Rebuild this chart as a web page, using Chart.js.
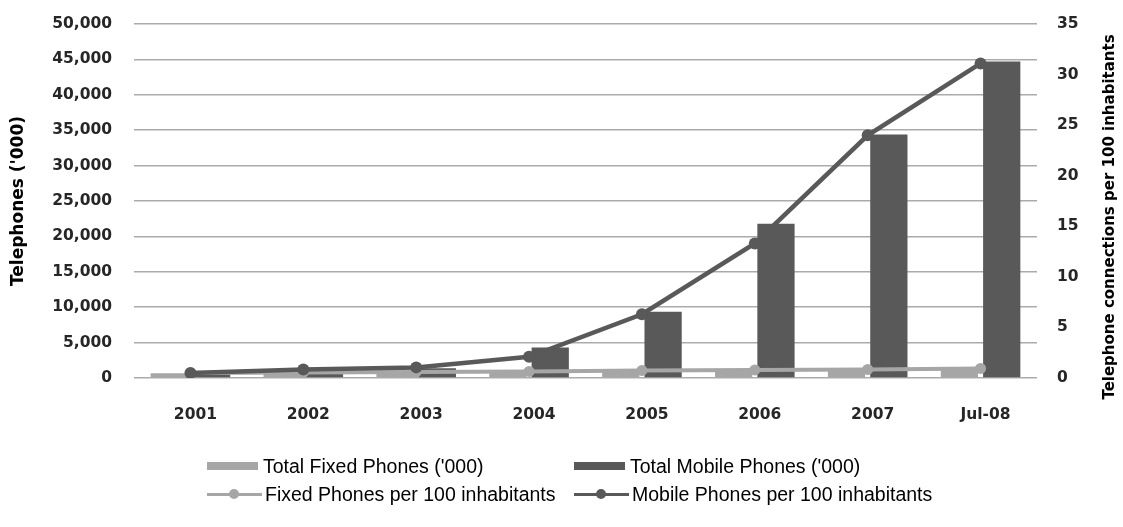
<!DOCTYPE html>
<html lang="en">

<head>
    <meta charset="UTF-8" />
    <title>Telephones</title>
    <script src="https://cdn.jsdelivr.net/npm/chart.js"></script>
    <style>
        body { margin: 0; background: #fff; }
        .quadro { position: relative; width: 1123px; height: 527px; }
        .legenda { position: absolute; left: 0; top: 0; width: 1123px; height: 527px; pointer-events: none;
            font-family: "Liberation Sans", sans-serif; font-size: 19.5px; color: #000; }
        .item { position: absolute; height: 24px; display: flex; align-items: center; white-space: nowrap; }
        .caixa { width: 51px; height: 8px; margin-right: 5px; }
        .amostra { position: relative; width: 55px; height: 24px; margin-right: 3px; }
        .amostra .traco { position: absolute; left: 0; right: 0; top: 10.5px; height: 3px; }
        .amostra .ponto { position: absolute; left: 22px; top: 7px; width: 10px; height: 10px; border-radius: 50%; }
    </style>
</head>

<body>
    <div class="quadro">
        <canvas id="graficoTelefones" width="1123" height="527"></canvas>
        <div class="legenda" id="div_legenda"></div>
    </div>
</body>

</html>

<script>
    // dados
    const anos = ['2001', '2002', '2003', '2004', '2005', '2006', '2007', 'Jul-08'];
    const fixosTotal = [660, 740, 830, 910, 1070, 1130, 1210, 1320];
    const moveisTotal = [520, 1070, 1370, 4300, 9350, 21800, 34400, 44700];
    const fixosPor100 = [0.5, 0.55, 0.6, 0.65, 0.75, 0.8, 0.85, 0.95];
    const moveisPor100 = [0.5, 0.85, 1.05, 2.1, 6.3, 13.3, 24.0, 31.1];

    const maxEsquerda = 50000;
    const passoEsquerda = 5000;
    const maxDireita = 35;
    const passoDireita = 5;

    const corClara = '#a6a6a6';
    const corEscura = '#595959';
    const fonteEixo = { family: '"DejaVu Sans"', size: 15.5, weight: 'bold' };

    // titulo do eixo da direita, lido de baixo para cima como no original
    const tituloDireita = {
        id: 'tituloDireita',
        afterDraw(chart) {
            const ctx = chart.ctx;
            const escala = chart.scales.yDireita;
            const area = chart.chartArea;
            ctx.save();
            ctx.translate(escala.right - 13, (area.top + area.bottom) / 2 + 16);
            ctx.rotate(-Math.PI / 2);
            ctx.font = 'bold 15px "DejaVu Sans"';
            ctx.fillStyle = '#000';
            ctx.textAlign = 'center';
            ctx.textBaseline = 'middle';
            ctx.fillText('Telephone connections per 100 inhabitants', 0, 0);
            ctx.restore();
        }
    };

    // largura fixa dos eixos verticais e sem folga extra em cima
    function ajustarEixo(largura) {
        return function (escala) {
            escala.width = largura;
            escala.paddingTop = 10;
            escala.paddingBottom = 10;
        };
    }

    const dados = {
        labels: anos,
        datasets: [
            {
                type: 'line',
                label: 'Mobile Phones per 100 inhabitants',
                data: moveisPor100,
                yAxisID: 'yDireita',
                borderColor: corEscura,
                backgroundColor: corEscura,
                borderWidth: 4.5,
                pointRadius: 6,
                pointBorderWidth: 0,
                tension: 0,
                order: 0
            },
            {
                type: 'line',
                label: 'Fixed Phones per 100 inhabitants',
                data: fixosPor100,
                yAxisID: 'yDireita',
                borderColor: corClara,
                backgroundColor: corClara,
                borderWidth: 4,
                pointRadius: 5.5,
                pointBorderWidth: 0,
                tension: 0,
                order: 1
            },
            {
                type: 'bar',
                label: "Total Fixed Phones ('000)",
                data: fixosTotal,
                yAxisID: 'yEsquerda',
                backgroundColor: corClara,
                categoryPercentage: 0.75,
                barPercentage: 0.88,
                order: 2
            },
            {
                type: 'bar',
                label: "Total Mobile Phones ('000)",
                data: moveisTotal,
                yAxisID: 'yEsquerda',
                backgroundColor: corEscura,
                categoryPercentage: 0.75,
                barPercentage: 0.88,
                order: 3
            }
        ]
    };

    const config = {
        type: 'bar',
        data: dados,
        options: {
            responsive: false,
            animation: false,
            devicePixelRatio: 1,
            layout: { padding: { top: 24, left: 0, right: 0, bottom: 0 } },
            plugins: {
                legend: { display: false },
                tooltip: { enabled: false }
            },
            scales: {
                x: {
                    grid: { display: false },
                    border: { display: false },
                    ticks: { font: fonteEixo, color: '#262626', padding: 20, labelOffset: 5, maxRotation: 0 },
                    afterFit: function (escala) { escala.height = 149; }
                },
                yEsquerda: {
                    position: 'left',
                    min: 0,
                    max: maxEsquerda,
                    grid: { color: '#ababab', lineWidth: 1.5, drawTicks: false },
                    border: { display: false },
                    ticks: {
                        stepSize: passoEsquerda,
                        font: fonteEixo,
                        color: '#262626',
                        padding: 22,
                        callback: function (valor) { return valor.toLocaleString('en-US'); }
                    },
                    title: {
                        display: true,
                        text: "Telephones ('000)",
                        font: { family: '"DejaVu Sans"', size: 17, weight: 'bold' },
                        color: '#000',
                        padding: { top: 8, bottom: 0 }
                    },
                    afterFit: ajustarEixo(134)
                },
                yDireita: {
                    position: 'right',
                    min: 0,
                    max: maxDireita,
                    grid: { drawOnChartArea: false, drawTicks: false },
                    border: { display: false },
                    ticks: { stepSize: passoDireita, font: fonteEixo, color: '#262626', padding: 20 },
                    afterFit: ajustarEixo(86)
                }
            }
        },
        plugins: [tituloDireita]
    };

    Chart.defaults.color = '#262626';
    let myChart = new Chart(document.getElementById('graficoTelefones'), config);

    // legenda em html, em duas linhas como no original
    function montarLegenda() {
        const posicoes = [
            { x: 207, y: 454 },
            { x: 574, y: 454 },
            { x: 207, y: 482 },
            { x: 574, y: 482 }
        ];
        const itens = [dados.datasets[2], dados.datasets[3], dados.datasets[1], dados.datasets[0]];
        let html = '';
        for (let i = 0; i < itens.length; i++) {
            const ds = itens[i];
            const p = posicoes[i];
            let marca = '';
            if (ds.type == 'bar') {
                marca = `<div class="caixa" style="background:${ds.backgroundColor}"></div>`;
            } else {
                marca = `<div class="amostra"><div class="traco" style="background:${ds.borderColor}"></div>` +
                    `<div class="ponto" style="background:${ds.borderColor}"></div></div>`;
            }
            html += `<div class="item" style="left:${p.x}px;top:${p.y}px">${marca}<span>${ds.label}</span></div>`;
        }
        div_legenda.innerHTML = html;
    }
    montarLegenda();
</script>
